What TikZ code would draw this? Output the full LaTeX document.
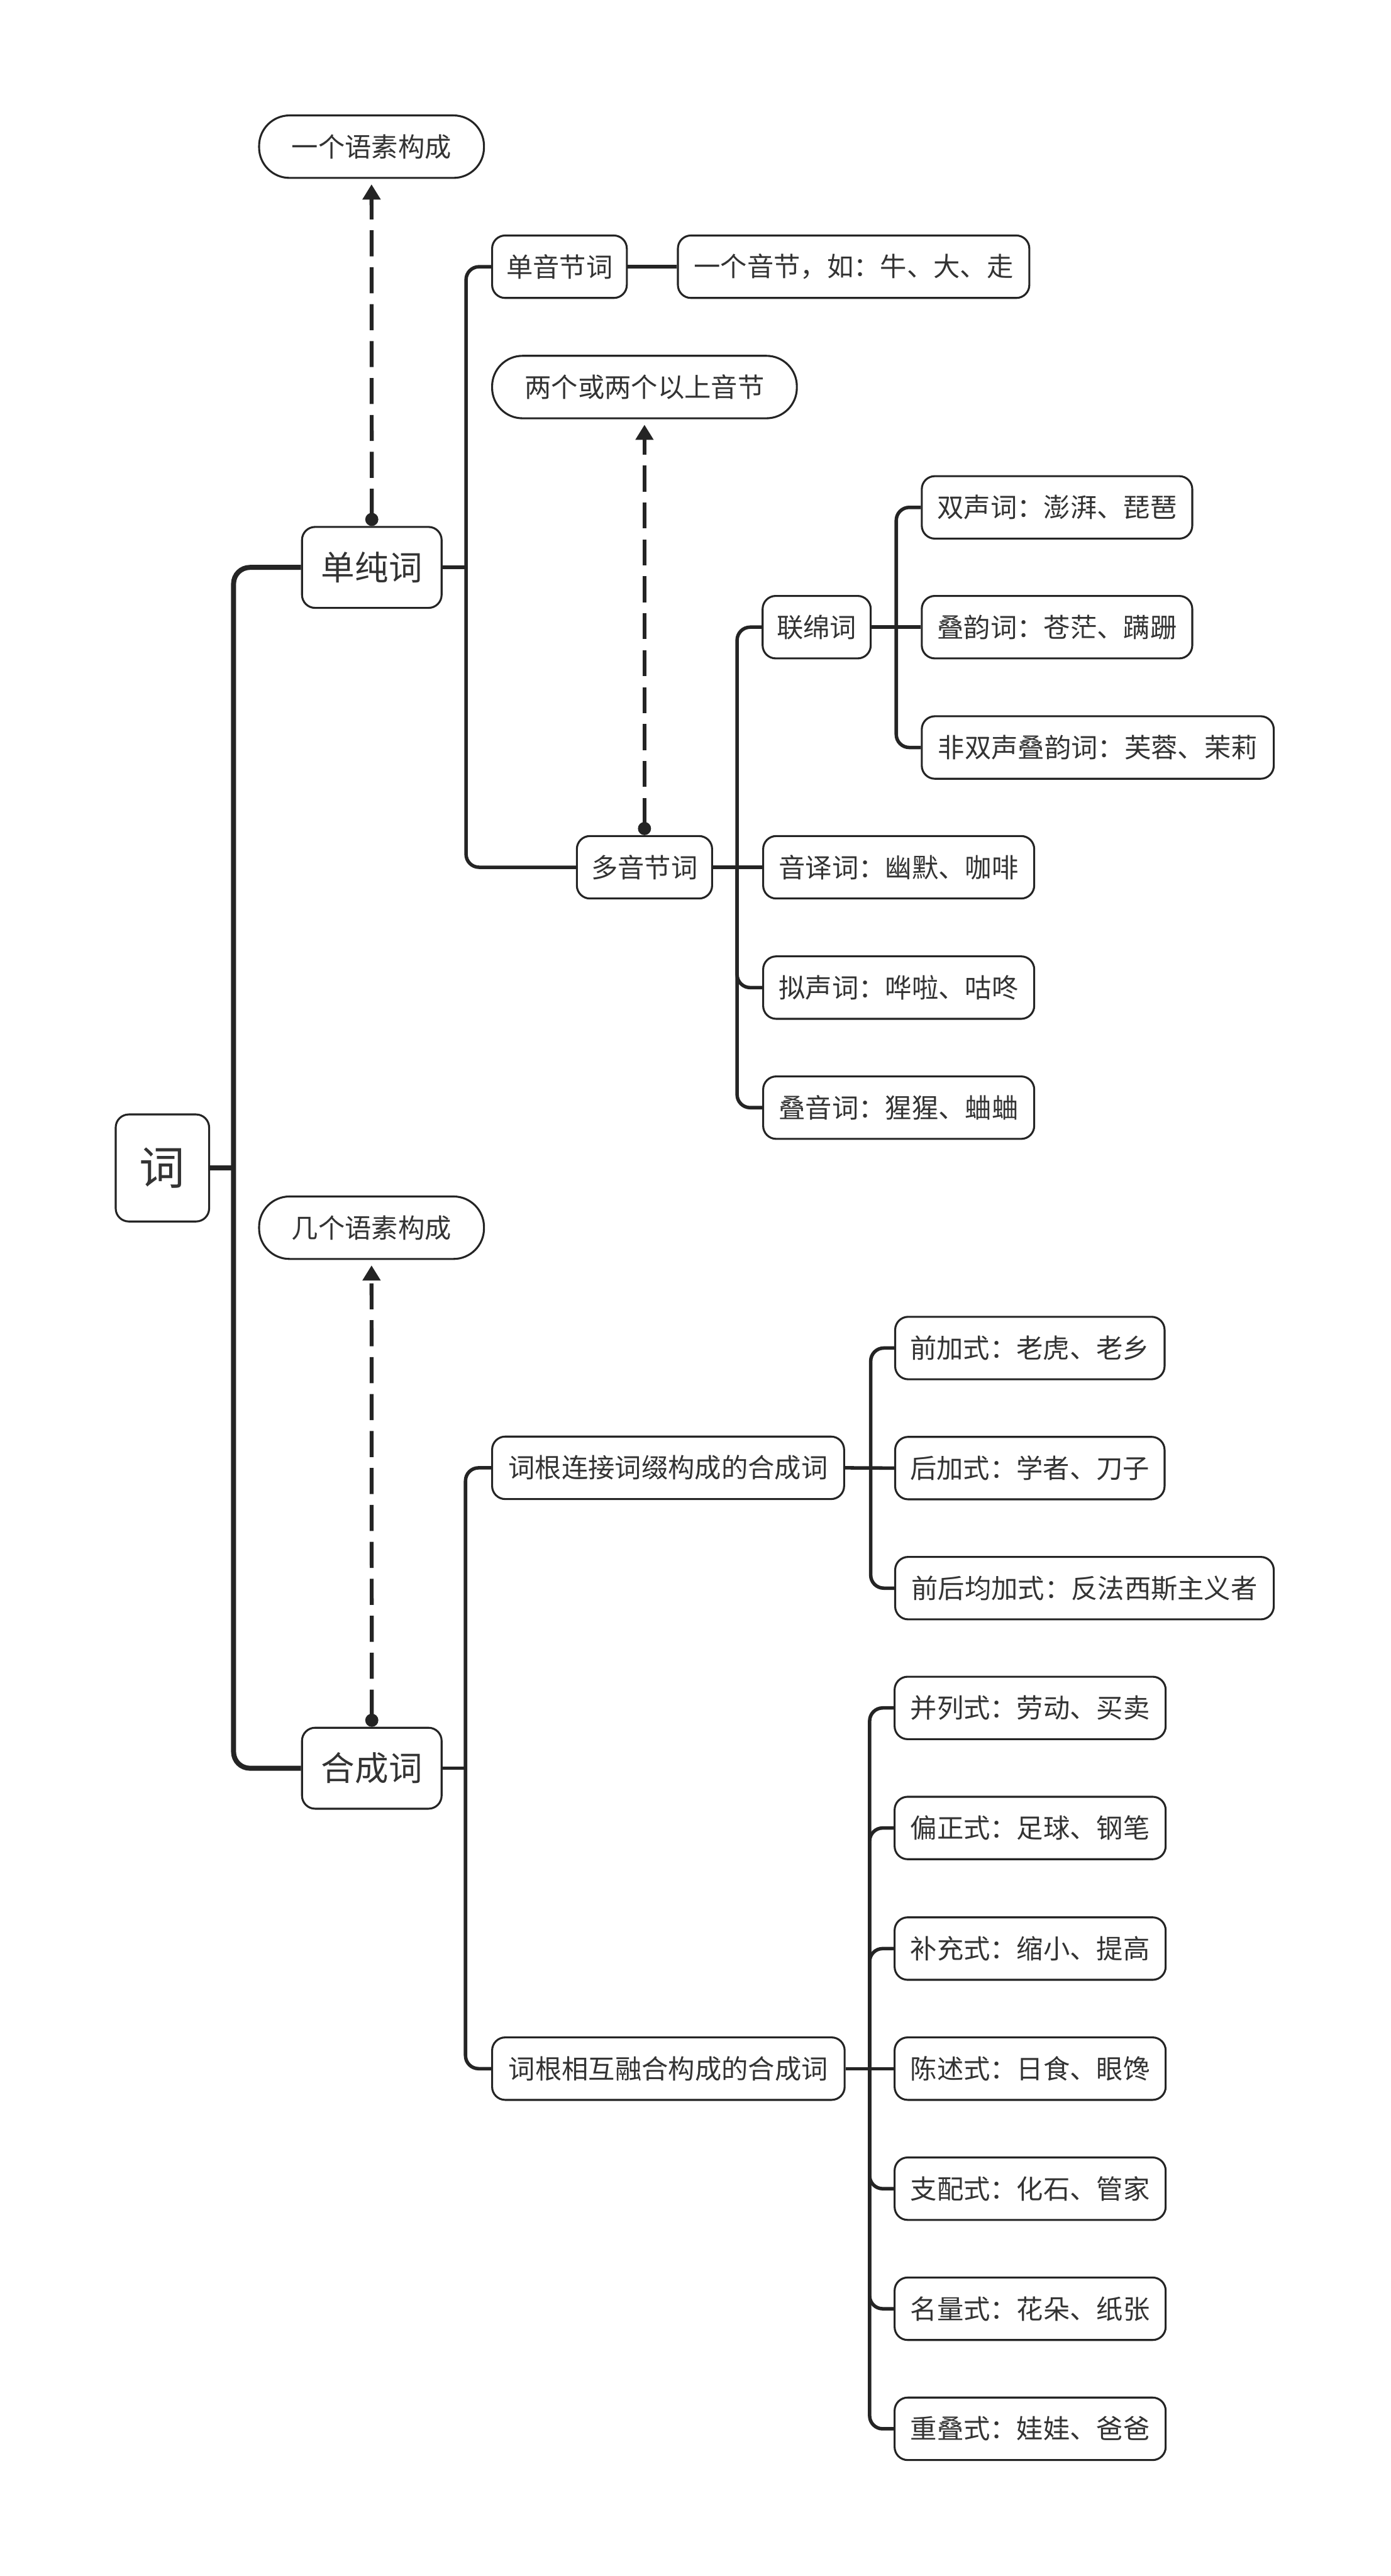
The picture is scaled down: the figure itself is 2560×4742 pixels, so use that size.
\documentclass[tikz,border=0pt]{standalone}
\usepackage{fontspec}
\usetikzlibrary{arrows.meta}
\newfontfamily\cjk{Noto Sans CJK SC}
\definecolor{linec}{RGB}{36,36,36}
\definecolor{textc}{RGB}{51,51,51}
\begin{document}
\begin{tikzpicture}[x=0.25pt,y=-0.25pt,
  box/.style={draw=linec, line width=0.9pt, rounded corners=6pt, fill=white, text=textc, inner sep=0pt, minimum height=28.75pt, font=\cjk\fontsize{12.25pt}{14pt}\selectfont},
  pill/.style={box, rounded corners=14pt},
  conn/.style={draw=linec, line width=1.6pt, rounded corners=6pt},
  trunk/.style={draw=linec, line width=2.3pt, rounded corners=7.5pt},
  dashar/.style={draw=linec, line width=1.8pt, dash pattern=on 12pt off 5pt, {Circle[length=6pt]}-{Triangle[length=7pt,width=8pt]}, shorten >=2.5pt}
]
\useasboundingbox (0,0) rectangle (2560,4742);

% root and first level
\node[box, minimum width=43pt, minimum height=49.25pt, font=\cjk\fontsize{21pt}{24pt}\selectfont] (root) at (299,2150) {词};
\node[box, minimum width=64.25pt, minimum height=37.25pt, font=\cjk\fontsize{15.5pt}{18pt}\selectfont] (dcc) at (684.5,1044.5) {单纯词};
\node[box, minimum width=64.25pt, minimum height=37.25pt, font=\cjk\fontsize{15.5pt}{18pt}\selectfont] (hcc) at (684.5,3255) {合成词};

% notes
\node[pill, minimum width=103.5pt] (p1) at (684,270) {一个语素构成};
\node[pill, minimum width=103.5pt] (p2) at (684,2260) {几个语素构成};
\node[pill, minimum width=140.25pt] (p3) at (1186.5,712.5) {两个或两个以上音节};

% second level
\node[box, minimum width=62pt] (dyj) at (1030,491) {单音节词};
\node[box, minimum width=161.75pt] (yy) at (1571.5,491) {一个音节，如：牛、大、走};
\node[box, minimum width=62.25pt] (dyjd) at (1186.5,1596.5) {多音节词};
\node[box, minimum width=162pt] (cg1) at (1230,2702) {词根连接词缀构成的合成词};
\node[box, minimum width=162.25pt] (cg2) at (1230.5,3808) {词根相互融合构成的合成词};

% third level under 多音节词
\node[box, minimum width=49.75pt] (lmc) at (1503.5,1154.5) {联绵词};
\node[box, minimum width=124.75pt] (yyc) at (1654.5,1596.5) {音译词：幽默、咖啡};
\node[box, minimum width=124.75pt] (nsc) at (1654.5,1818) {拟声词：哗啦、咕咚};
\node[box, minimum width=124.75pt] (dyc) at (1654.5,2039) {叠音词：猩猩、蛐蛐};

% under 联绵词
\node[box, minimum width=124.5pt] (ssc) at (1946,934) {双声词：澎湃、琵琶};
\node[box, minimum width=124.5pt] (dync) at (1946,1154.5) {叠韵词：苍茫、蹒跚};
\node[box, minimum width=162pt] (fss) at (2021,1376) {非双声叠韵词：芙蓉、茉莉};

% under 词根连接
\node[box, minimum width=124pt] (qj) at (1896,2481.5) {前加式：老虎、老乡};
\node[box, minimum width=124pt] (hj) at (1896,2702.5) {后加式：学者、刀子};
\node[box, minimum width=174.25pt] (qhj) at (1996.5,2923.5) {前后均加式：反法西斯主义者};

% under 词根相互融合
\node[box, minimum width=124.75pt] (f1) at (1896.5,3144) {并列式：劳动、买卖};
\node[box, minimum width=124.75pt] (f2) at (1896.5,3365) {偏正式：足球、钢笔};
\node[box, minimum width=124.75pt] (f3) at (1896.5,3587) {补充式：缩小、提高};
\node[box, minimum width=124.75pt] (f4) at (1896.5,3808) {陈述式：日食、眼馋};
\node[box, minimum width=124.75pt] (f5) at (1896.5,4029) {支配式：化石、管家};
\node[box, minimum width=124.75pt] (f6) at (1896.5,4250) {名量式：花朵、纸张};
\node[box, minimum width=124.75pt] (f7) at (1896.5,4471) {重叠式：娃娃、爸爸};

% junctions
\coordinate (jroot) at (430,2150);
\coordinate (j1) at (858,1044.5);
\coordinate (j2) at (1357,1596.5);
\coordinate (j3) at (1650,1154.5);
\coordinate (j4) at (857,3255);
\coordinate (j5) at (1603,2702);
\coordinate (j6) at (1601,3808);

% trunk
\draw[trunk] (root.east) -- (jroot);
\draw[trunk] (dcc.west) -| (jroot) |- (hcc.west);

% 单纯词 group
\draw[conn] (dcc.east) -- (j1);
\draw[conn] (dyj.west) -| (j1) |- (dyjd.west);
\draw[conn] (dyj.east) -- (yy.west);

% 多音节词 group
\draw[conn] (dyjd.east) -- (yyc.west);
\draw[conn] (lmc.west) -| (j2) |- (dyc.west);
\draw[conn] (j2) |- (nsc.west);

% 联绵词 group
\draw[conn] (lmc.east) -- (dync.west);
\draw[conn] (ssc.west) -| (j3) |- (fss.west);

% 合成词 group
\draw[conn] (hcc.east) -- (j4);
\draw[conn] (cg1.west) -| (j4) |- (cg2.west);

% 词根连接 group
\draw[conn] (cg1.east) -- (hj.west);
\draw[conn] (qj.west) -| (j5) |- (qhj.west);

% 词根相互融合 group
\draw[conn] (cg2.east) -- (f4.west);
\draw[conn] (f1.west) -| (j6) |- (f7.west);
\foreach \n in {f2,f3,f5,f6} \draw[conn] (j6) |- (\n.west);

% dashed notes
\draw[dashar] (dcc.north) -- (p1.south);
\draw[dashar] (hcc.north) -- (p2.south);
\draw[dashar] (dyjd.north) -- (p3.south);
\end{tikzpicture}
\end{document}
